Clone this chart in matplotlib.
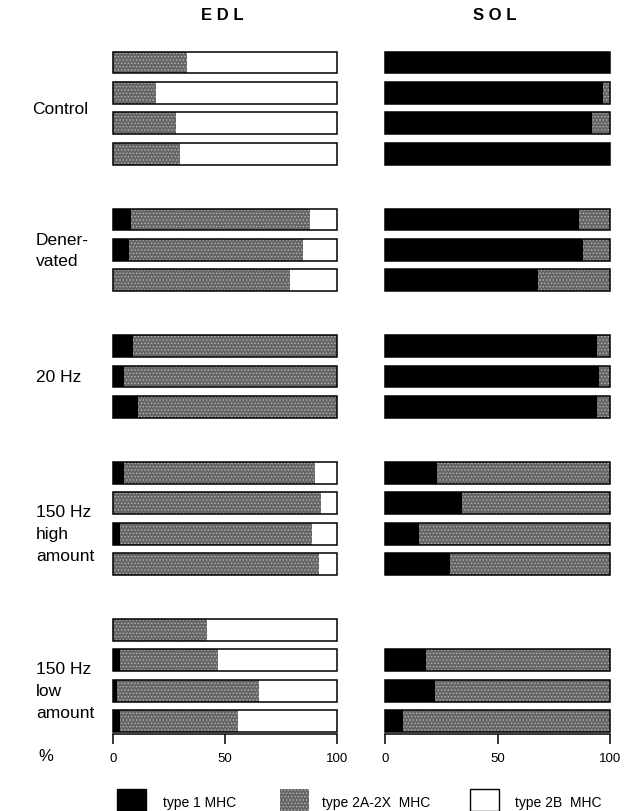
import numpy as np
import matplotlib
matplotlib.use('Agg')
import matplotlib.pyplot as plt
from matplotlib.patches import Rectangle
from matplotlib import transforms

plt.rcParams['font.family'] = ['Liberation Sans', 'DejaVu Sans']
plt.rcParams['hatch.linewidth'] = 0.6

# groups of fibre samples, top to bottom
group_labels = ['Control', 'Dener-\nvated', '20 Hz', '150 Hz\nhigh\namount', '150 Hz\nlow\namount']
group_sizes = [4, 3, 3, 4, 4]

# % of each MHC type per bar (type 2B = the rest up to 100)
edl_type1 = [0, 0, 0, 0, 8, 7, 0, 9, 5, 11, 5, 0, 3, 0, 0, 3, 2, 3]
edl_type2a = [33, 19, 28, 30, 80, 78, 79, 91, 95, 89, 85, 93, 86, 92, 42, 44, 63, 53]
sol_type1 = [100, 97, 92, 100, 86, 88, 68, 94, 95, 94, 23, 34, 15, 29, np.nan, 18, 22, 8]
sol_type2a = [0, 3, 8, 0, 14, 12, 32, 6, 5, 6, 77, 66, 85, 71, np.nan, 82, 78, 92]

xticks = [0, 50, 100]
legend_labels = ['type 1 MHC', 'type 2A-2X  MHC', 'type 2B  MHC']

W, H = 625, 812
GRAY = '#666666'
DOTS = '#b4b4b4'
HATCH = '.....'

# layout (pixels)
gap = 1.16
pitch = 30.43
bar_h = 0.72
top_px, base_px, first_px = 45, 735, 63.5

ypos = []
start = 0.0
for n in group_sizes:
    ypos += list(start + np.arange(n))
    start += n + gap
ypos = np.array(ypos)

fig = plt.figure(figsize=(W / 100, H / 100), dpi=100)


def px_axes(x0, x1):
    return fig.add_axes([x0 / W, 1 - base_px / H, (x1 - x0) / W, (base_px - top_px) / H])


def draw(ax, t1, t2a):
    t1 = np.array(t1, float)
    t2a = np.array(t2a, float)
    t2b = 100 - t1 - t2a
    ok = ~np.isnan(t1)
    y = ypos[ok]
    ax.barh(y, t1[ok], height=bar_h, color='black', lw=0)
    ax.barh(y, t2a[ok], left=t1[ok], height=bar_h, facecolor=GRAY,
            edgecolor=DOTS, lw=0, hatch=HATCH)
    ax.barh(y, t2b[ok], left=(t1 + t2a)[ok], height=bar_h, color='white', lw=0)
    ax.barh(y, 100, height=bar_h, fill=False, edgecolor='black', lw=1.1, clip_on=False)

    ax.set_xlim(0, 100)
    y_top = -(first_px - top_px) / pitch
    y_bot = ypos[-1] + (base_px - (first_px + ypos[-1] * pitch)) / pitch
    ax.set_ylim(y_bot, y_top)
    for s in ['top', 'left', 'right']:
        ax.spines[s].set_visible(False)
    ax.spines['bottom'].set_linewidth(1.1)
    ax.set_yticks([])
    ax.set_xticks(xticks)
    ax.tick_params(axis='x', direction='out', length=7, width=1.1, pad=6, labelsize=9.5)


ax_edl = px_axes(113, 337)
ax_sol = px_axes(385, 610)
draw(ax_edl, edl_type1, edl_type2a)
draw(ax_sol, sol_type1, sol_type2a)

fig.text(222 / W, 1 - 15 / H, 'E D L', ha='center', va='center', fontsize=12, fontweight='bold')
fig.text(495 / W, 1 - 15 / H, 'S O L', ha='center', va='center', fontsize=12, fontweight='bold')

# group labels on the left
label_rows = [1.5, 1, 1, 2, 2]
label_x = [32, 36, 36, 36, 36]
trans = transforms.blended_transform_factory(fig.transFigure, ax_edl.transData)
idx = 0
for lab, n, r, lx in zip(group_labels, group_sizes, label_rows, label_x):
    fig.text(lx / W, ypos[idx] + r, lab, transform=trans, ha='left', va='center',
             fontsize=12.5, linespacing=1.55)
    idx += n

fig.text(46 / W, 1 - 757 / H, '%', ha='center', va='center', fontsize=12)

# legend along the bottom
boxes = [(117, 'black', None), (280, GRAY, HATCH), (470, 'white', None)]
text_x = [163, 322, 515]
for (bx, fc, ht), tx, lab in zip(boxes, text_x, legend_labels):
    if ht:
        fig.add_artist(Rectangle((bx / W, 0), 29 / W, 22 / H, transform=fig.transFigure,
                                 facecolor=fc, edgecolor=DOTS, lw=0, hatch=ht))
    else:
        fig.add_artist(Rectangle((bx / W, 0), 29 / W, 22 / H, transform=fig.transFigure,
                                 facecolor=fc, edgecolor='black', lw=1))
    fig.text(tx / W, 1 - 803 / H, lab, ha='left', va='center', fontsize=10)

fig.savefig('out.png', dpi=100)
